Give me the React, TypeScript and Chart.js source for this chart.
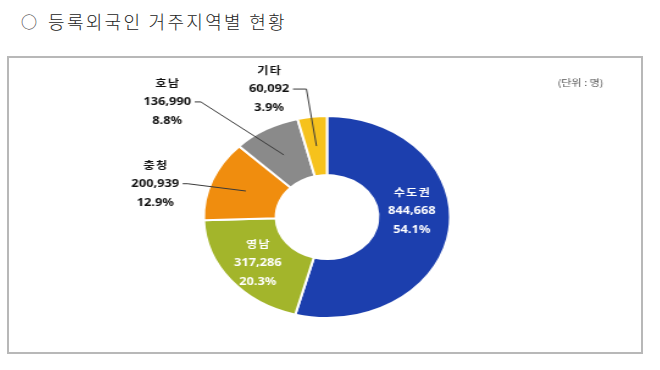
import React, { useEffect, useRef } from 'react';
import { Chart, registerables } from 'chart.js';

Chart.register(...registerables);

// ---- data ----
const categories = ['수도권', '영남', '충청', '호남', '기타'];
const values = [844668, 317286, 200939, 136990, 60092];
const percentLabels = ['54.1%', '20.3%', '12.9%', '8.8%', '3.9%'];
const titleMark = '○';
const title = '등록외국인 거주지역별 현황';
const unitLabel = '(단위 : 명)';

// ---- styles ----
const colors = ['#1c3fae', '#a3b52b', '#f08d0e', '#8a8a8a', '#f6c21c'];
const STRETCH = 1.22;
const CANVAS_W = 520;
const CANVAS_H = 296;
const LINE_H = 19;
const NAME_FONT = 'bold 10px "Noto Sans CJK KR", "Noto Sans", sans-serif';
const NUM_FONT = 'bold 10.5px "Noto Sans", "Noto Sans CJK KR", sans-serif';
const labelStyles = [
  { inside: true, dx: -1.4, dy: -15.5, stub: 0 },
  { inside: true, dx: -0.8, dy: 1.3, stub: 0 },
  { inside: false, dx: -74.3, dy: -7.3, stub: 4 },
  { inside: false, dx: -95.6, dy: -53, stub: 5 },
  { inside: false, dx: -38.8, dy: -57, stub: 11 },
];

const labelPlugin = {
  id: 'sliceLabels',
  afterDatasetsDraw(chart: any) {
    const ctx = chart.ctx as CanvasRenderingContext2D;
    const meta = chart.getDatasetMeta(0);
    ctx.save();
    ctx.textAlign = 'center';
    ctx.textBaseline = 'middle';
    meta.data.forEach((arc: any, i: number) => {
      const p = arc.getProps(['x', 'y', 'startAngle', 'endAngle', 'innerRadius', 'outerRadius'], true);
      const mid = (p.startAngle + p.endAngle) / 2;
      const r = (p.innerRadius + p.outerRadius) / 2;
      const ax = p.x + Math.cos(mid) * r;
      const ay = p.y + Math.sin(mid) * r;
      const st = labelStyles[i];
      const tx = ax + st.dx;
      const ty = ay + st.dy;
      const numText = values[i].toLocaleString('en-US');
      ctx.fillStyle = st.inside ? '#ffffff' : '#111111';
      ctx.font = NAME_FONT;
      (ctx as any).letterSpacing = '1px';
      ctx.fillText(categories[i], tx + 0.5, ty - LINE_H);
      (ctx as any).letterSpacing = '0px';
      ctx.font = NUM_FONT;
      ctx.fillText(numText, tx, ty);
      ctx.fillText(percentLabels[i], tx, ty + LINE_H);
      if (!st.inside) {
        const w = ctx.measureText(numText).width;
        const sx = tx + w / 2 + 3;
        ctx.beginPath();
        ctx.moveTo(sx, ty);
        ctx.lineTo(sx + st.stub, ty);
        ctx.lineTo(ax, ay);
        ctx.strokeStyle = '#3a3a3a';
        ctx.lineWidth = 1;
        ctx.stroke();
      }
    });
    ctx.font = '9px "Noto Sans CJK KR", sans-serif';
    ctx.fillStyle = '#555555';
    ctx.textAlign = 'right';
    ctx.fillText(unitLabel, chart.width - 32, 26);
    ctx.restore();
  },
};

export default function App() {
  const ref = useRef<HTMLCanvasElement | null>(null);
  useEffect(() => {
    if (!ref.current) return;
    const chart = new Chart(ref.current, {
      type: 'doughnut',
      data: {
        labels: categories,
        datasets: [
          {
            data: values,
            backgroundColor: colors,
            borderColor: '#ffffff',
            borderWidth: 2,
            hoverOffset: 0,
          },
        ],
      },
      options: {
        responsive: false,
        animation: false,
        radius: 101,
        cutout: '41.5%',
        layout: { padding: { top: 59, bottom: 35, left: 160.5, right: 157.5 } },
        plugins: { legend: { display: false }, tooltip: { enabled: false } },
        events: [],
      } as any,
      plugins: [labelPlugin],
    });
    return () => chart.destroy();
  }, []);

  return (
    <div style={{ position: 'absolute', left: 0, top: 0, width: 660, height: 370, background: '#fff' }}>
      <div
        style={{
          position: 'absolute',
          left: 21,
          top: 12,
          fontFamily: '"Noto Sans CJK KR", sans-serif',
          fontSize: 18,
          fontWeight: 300,
          lineHeight: '18px',
          color: '#222',
          whiteSpace: 'nowrap',
          display: 'flex',
          alignItems: 'center',
        }}
      >
        <span style={{ fontSize: 16, lineHeight: '18px' }}>{titleMark}</span>
        <span style={{ marginLeft: 11, letterSpacing: '2.3px' }}>{title}</span>
      </div>
      <div
        style={{
          position: 'absolute',
          left: 7,
          top: 56,
          width: 636,
          height: 298,
          border: '2px solid #b8b8b8',
          boxSizing: 'border-box',
        }}
      />
      <div
        style={{
          position: 'absolute',
          left: 8,
          top: 57,
          width: CANVAS_W,
          height: CANVAS_H,
          transform: `scaleX(${STRETCH})`,
          transformOrigin: '0 0',
        }}
      >
        <canvas ref={ref} width={CANVAS_W} height={CANVAS_H} style={{ width: CANVAS_W, height: CANVAS_H }} />
      </div>
    </div>
  );
}
